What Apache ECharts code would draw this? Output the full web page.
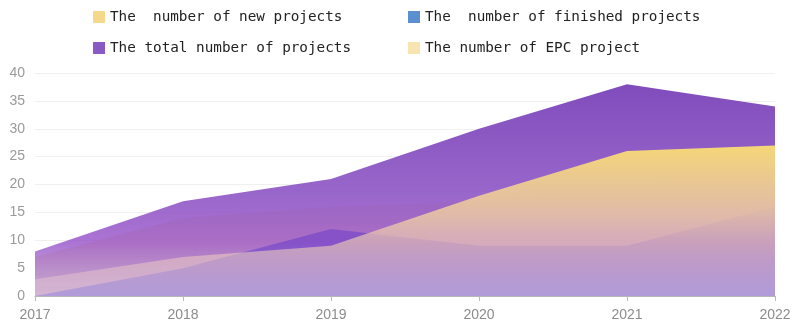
<!DOCTYPE html>
<html>
<head>
<meta charset="utf-8">
<script src="https://cdn.jsdelivr.net/npm/echarts@6/dist/echarts.min.js"></script>
<style>
  html, body { margin: 0; padding: 0; background: #fff; }
  #chart { width: 794px; height: 328px; }
</style>
</head>
<body>
<div id="chart"></div>
<script>
// Project counts per year
const years = ['2017', '2018', '2019', '2020', '2021', '2022'];
const newProjects = [3, 7, 9, 18, 26, 27];
const finishedProjects = [0, 5, 12, 9, 9, 16];
const totalProjects = [8, 17, 21, 30, 38, 34];
const epcProjects = [7, 14, 16, 17, 20, 23];

const NAME_NEW = 'The  number of new projects';
const NAME_FINISHED = 'The  number of finished projects';
const NAME_TOTAL = 'The total number of projects';
const NAME_EPC = 'The number of EPC project';

// vertical gradient, top of the area to the axis
function fade(stops) {
  return {
    type: 'linear', x: 0, y: 0, x2: 0, y2: 1,
    colorStops: stops.map(([offset, color]) => ({ offset, color }))
  };
}

const legendText = { fontFamily: 'DejaVu Sans Mono', fontSize: 14.3, color: '#222' };

function areaSeries(name, data, fill, icon, z) {
  return {
    name, type: 'line', data, z,
    symbol: 'none', showSymbol: false,
    lineStyle: { width: 0 },
    itemStyle: { color: icon },
    areaStyle: { color: fill, opacity: 1 },
    emphasis: { disabled: true }
  };
}

const chart = echarts.init(document.getElementById('chart'), null, { renderer: 'canvas' });
chart.setOption({
  animation: false,
  legend: [
    {
      orient: 'vertical', left: 88, top: 5, icon: 'rect',
      itemWidth: 12, itemHeight: 12, itemGap: 17,
      textStyle: legendText,
      data: [NAME_NEW, NAME_TOTAL]
    },
    {
      orient: 'vertical', left: 403, top: 5, icon: 'rect',
      itemWidth: 12, itemHeight: 12, itemGap: 17,
      textStyle: legendText,
      data: [NAME_FINISHED, NAME_EPC]
    }
  ],
  grid: { left: 35, right: 19, top: 73, bottom: 32 },
  xAxis: {
    type: 'category',
    boundaryGap: false,
    data: years,
    axisLine: { lineStyle: { color: '#b8b8b8' } },
    axisTick: { show: true, length: 5, lineStyle: { color: '#b8b8b8' } },
    axisLabel: { color: '#8c8c8c', fontSize: 14, margin: 12, fontFamily: 'Liberation Sans' }
  },
  yAxis: {
    type: 'value',
    min: 0, max: 40, interval: 5,
    axisLine: { show: false },
    axisTick: { show: false },
    splitLine: { lineStyle: { color: '#f0f0f0' } },
    axisLabel: { color: '#9a9a9a', fontSize: 14, margin: 10, fontFamily: 'Liberation Sans' }
  },
  series: [
    areaSeries(NAME_EPC, epcProjects, fade([
      [0, 'rgba(250,230,180,0.95)'],
      [1, 'rgba(250,232,196,0.9)']
    ]), '#f7e4b0', 1),
    areaSeries(NAME_FINISHED, finishedProjects, fade([
      [0, 'rgba(72,84,200,0.95)'],
      [1, 'rgba(120,140,222,0.92)']
    ]), '#5b8fd0', 2),
    areaSeries(NAME_TOTAL, totalProjects, fade([
      [0, 'rgba(128,76,188,1)'],
      [0.5, 'rgba(144,90,198,0.93)'],
      [0.75, 'rgba(145,72,198,0.76)'],
      [1, 'rgba(160,120,210,0.55)']
    ]), '#8a5ac4', 3),
    areaSeries(NAME_NEW, newProjects, fade([
      [0, 'rgba(245,215,118,1)'],
      [0.45, 'rgba(242,208,160,0.8)'],
      [1, 'rgba(232,200,220,0.34)']
    ]), '#f5d88a', 4)
  ]
});
</script>
</body>
</html>
